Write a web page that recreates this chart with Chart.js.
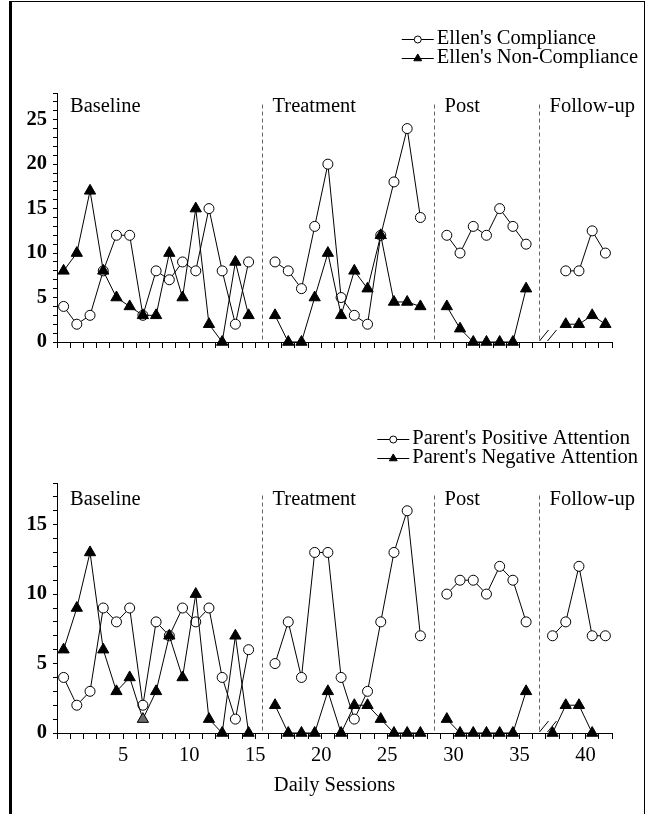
<!DOCTYPE html>
<html>
<head>
<meta charset="utf-8">
<script src="https://cdn.jsdelivr.net/npm/chart.js@4.4.1/dist/chart.umd.min.js"></script>
<style>
  html, body { margin: 0; padding: 0; background: #fff; overflow: hidden; }
  #frame {
    position: absolute; left: 9px; top: 1px; width: 632px; height: 813px;
    border-left: 3px solid #000; border-top: 1px solid #000; border-right: 1px solid #000;
  }
  canvas { position: absolute; left: 0; }
  #ellen { top: 0; }
  #parent { top: 400px; }
</style>
</head>
<body>
<div id="frame"></div>
<canvas id="ellen" width="647" height="400"></canvas>
<canvas id="parent" width="647" height="414"></canvas>
<script>
// phases and the daily sessions that belong to each one
const phaseNames = ['Baseline', 'Treatment', 'Post', 'Follow-up'];
const phaseSessions = [
  [1, 2, 3, 4, 5, 6, 7, 8, 9, 10, 11, 12, 13, 14, 15],
  [17, 18, 19, 20, 21, 22, 23, 24, 25, 26, 27, 28],
  [30, 31, 32, 33, 34, 35, 36],
  [38, 39, 40, 41, 42]
];

// Ellen's behaviour, one list per phase (null = no observation)
const ellenCompliance = [
  [4, 2, 3, 8, 12, 12, 3, 8, 7, 9, 8, 15, 8, 2, 9],
  [9, 8, 6, 13, 20, 5, 3, 2, 12, 18, 24, 14],
  [12, 10, 13, 12, 15, 13, 11],
  [null, 8, 8, 12.5, 10]
];
const ellenNonCompliance = [
  [8, 10, 17, 8, 5, 4, 3, 3, 10, 5, 15, 2, 0, 9, 3],
  [3, 0, 0, 5, 10, 3, 8, 6, 12, 4.5, 4.5, 4],
  [4, 1.5, 0, 0, 0, 0, 6],
  [null, 2, 2, 3, 2]
];

// parent's attention
const parentPositive = [
  [4, 2, 3, 9, 8, 9, 2, 8, 7, 9, 8, 9, 4, 1, 6],
  [5, 8, 4, 13, 13, 4, 1, 3, 8, 13, 16, 7],
  [10, 11, 11, 10, 12, 11, 8],
  [7, 8, 12, 7, 7]
];
const parentNegative = [
  [6, 9, 13, 6, 3, 4, 1, 3, 7, 4, 10, 1, 0, 7, 0],
  [2, 0, 0, 0, 3, 0, 2, 2, 1, 0, 0, 0],
  [1, 0, 0, 0, 0, 0, 3],
  [0, 2, 2, 0, null]
];
// sessions whose marker is printed grey
const greySessions = [7];

const SERIF = '"Liberation Serif", "Times New Roman", serif';
const TEXT_SIZE = 20.5;

// each session sits in the middle of its slot; a null point breaks the line between phases
function toPoints(series) {
  const pts = [];
  phaseSessions.forEach((sessions, p) => {
    if (p > 0) pts.push({ x: sessions[0] - 1, y: null });
    sessions.forEach((s, i) => pts.push({ x: s - 0.5, y: series[p][i], session: s }));
  });
  return pts;
}

function circleSet(label, series) {
  return {
    label, data: toPoints(series),
    borderColor: '#000', borderWidth: 1, tension: 0, spanGaps: false, clip: false, order: 2,
    pointStyle: 'circle', pointRadius: 5, pointBorderWidth: 1,
    pointBackgroundColor: '#fff', pointBorderColor: '#000'
  };
}

function triangleSet(label, series) {
  return {
    label, data: toPoints(series),
    borderColor: '#000', borderWidth: 1, tension: 0, spanGaps: false, clip: false, order: 1,
    pointStyle: 'triangle', pointRadius: 6.5, pointBorderWidth: 1,
    pointBackgroundColor: c => (c.raw && greySessions.includes(c.raw.session) && c.chart.canvas.id === 'parent') ? '#6a6a6a' : '#000',
    pointBorderColor: '#000'
  };
}

// dashed phase dividers, axis break and phase names
const phasePlugin = {
  id: 'phases',
  beforeDatasetsDraw(chart, args, opts) {
    const { ctx, scales: { x, y } } = chart;
    const base = y.getPixelForValue(0);
    const top = y.getPixelForValue(opts.lineTop);
    ctx.save();
    ctx.strokeStyle = '#666';
    ctx.lineWidth = 1;
    ctx.setLineDash([4, 3]);
    const dividers = phaseSessions.slice(1).map(s => Math.round(x.getPixelForValue(s[0] - 1.5)) + 0.5);
    dividers.forEach(px => {
      ctx.beginPath(); ctx.moveTo(px, top); ctx.lineTo(px, base); ctx.stroke();
    });
    ctx.setLineDash([]);

    // break before follow-up
    ctx.strokeStyle = '#000';
    const bx = dividers[dividers.length - 1];
    [0, 8].forEach(d => {
      ctx.beginPath(); ctx.moveTo(bx + d, base - 1); ctx.lineTo(bx + d + 9, base - 12); ctx.stroke();
    });

    ctx.fillStyle = '#000';
    ctx.font = TEXT_SIZE + 'px ' + SERIF;
    ctx.textBaseline = 'middle';
    ctx.textAlign = 'left';
    const ly = y.getPixelForValue(opts.labelY);
    phaseNames.forEach((name, i) => {
      const lx = i === 0 ? x.getPixelForValue(0) + 13 : dividers[i - 1] + 10;
      ctx.fillText(name, lx, ly);
    });
    ctx.restore();
  }
};

// legend in the top right corner: line, marker, label
const keyPlugin = {
  id: 'seriesKey',
  afterDraw(chart, args, opts) {
    const ctx = chart.ctx;
    const sets = chart.data.datasets;
    ctx.save();
    ctx.font = TEXT_SIZE + 'px ' + SERIF;
    const w = Math.max(...sets.map(d => ctx.measureText(d.label).width));
    const left = opts.right - w;
    sets.forEach((d, i) => {
      const y = opts.top + i * opts.rowGap;
      ctx.strokeStyle = '#000';
      ctx.lineWidth = 1;
      ctx.beginPath(); ctx.moveTo(left - 35, y + 0.5); ctx.lineTo(left - 3, y + 0.5); ctx.stroke();
      ctx.fillStyle = d.pointStyle === 'circle' ? '#fff' : '#000';
      Chart.helpers.drawPoint(ctx, { pointStyle: d.pointStyle, radius: d.pointRadius * 0.7, borderWidth: 1, rotation: 0 }, left - 19, y + 0.5);
      ctx.fillStyle = '#000';
      ctx.textBaseline = 'middle';
      ctx.fillText(d.label, left, y);
    });
    ctx.restore();
  }
};

function makeChart(id, datasets, yMax, axisHeight, showLabels, phaseOpts) {
  return new Chart(document.getElementById(id), {
    type: 'line',
    data: { datasets },
    plugins: [phasePlugin, keyPlugin],
    options: {
      responsive: false,
      animation: false,
      events: [],
      layout: { autoPadding: false, padding: { left: 0, right: 35, top: phaseOpts.areaTop, bottom: 0 } },
      plugins: {
        legend: { display: false },
        tooltip: { enabled: false },
        phases: phaseOpts,
        seriesKey: { right: 638, top: 39, rowGap: 19 }
      },
      scales: {
        x: {
          type: 'linear', min: 0, max: 42,
          afterFit: s => { s.height = axisHeight; },
          grid: { drawOnChartArea: false, tickLength: 6, color: '#000' },
          border: { color: '#000', width: 1 },
          ticks: {
            stepSize: 1, autoSkip: false, maxRotation: 0, padding: 4, color: '#000',
            font: { family: SERIF, size: TEXT_SIZE },
            callback: v => (showLabels && v > 0 && v % 5 === 0) ? v : ''
          },
          title: {
            display: showLabels, text: 'Daily Sessions', color: '#000',
            font: { family: SERIF, size: TEXT_SIZE }, padding: { top: 0, bottom: 16 }
          }
        },
        y: {
          min: 0, max: yMax,
          afterFit: s => { s.width = 57; },
          grid: { drawOnChartArea: false, tickLength: 4, color: '#000' },
          border: { color: '#000', width: 1 },
          ticks: {
            stepSize: 1, autoSkip: false, padding: 6, color: '#000',
            font: { family: SERIF, size: TEXT_SIZE, weight: 'bold' },
            callback: v => v % 5 === 0 ? v : ''
          }
        }
      }
    }
  });
}

makeChart('ellen', [
  circleSet("Ellen's Compliance", ellenCompliance),
  triangleSet("Ellen's Non-Compliance", ellenNonCompliance)
], 28, 58, false, { areaTop: 93, labelY: 26.5, lineTop: 26.7 });

makeChart('parent', [
  circleSet("Parent's Positive Attention", parentPositive),
  triangleSet("Parent's Negative Attention", parentNegative)
], 18, 81, true, { areaTop: 83, labelY: 16.8, lineTop: 17.1 });
</script>
</body>
</html>
